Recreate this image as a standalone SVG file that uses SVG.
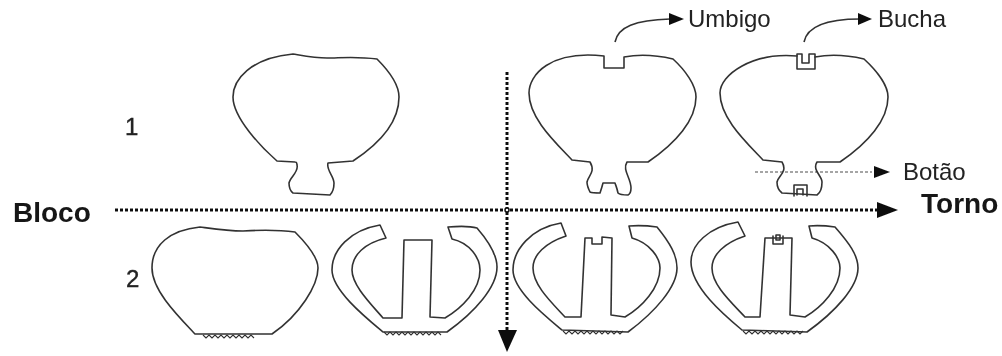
<svg xmlns="http://www.w3.org/2000/svg" width="1002" height="356" viewBox="0 0 1002 356">
<defs>
<style>
.o{fill:none;stroke:#333;stroke-width:1.6;stroke-linejoin:round;stroke-linecap:round}
.t{fill:none;stroke:#333;stroke-width:1.1}
.d{fill:none;stroke:#111;stroke-width:3;stroke-dasharray:3 2}
.a{fill:#111;stroke:none}
.c{fill:none;stroke:#333;stroke-width:1.6}
text{font-family:"Liberation Sans",Arial,sans-serif;fill:#222}
.b{font-weight:bold;font-size:28px;fill:#151515}
.n{font-size:24px;stroke:#222;stroke-width:.4}
.l{font-size:24px}
</style>
<filter id="s" x="-5%" y="-5%" width="110%" height="110%"><feGaussianBlur stdDeviation="0.6"/></filter>
</defs>
<rect width="1002" height="356" fill="#fff"/>
<g filter="url(#s)">
<g id="connectors">
<path class="d" d="M115 210H878"/>
<path class="a" d="M877 202L898 210L877 218Z"/>
<path class="d" d="M507 72V330"/>
<path class="a" d="M498 330L517 330L507 352Z"/>
<circle cx="507" cy="210" r="2" fill="#fff" stroke="#111" stroke-width="1.5"/>
<path class="c" d="M615 42C618 27 635 20 670 19"/>
<path class="a" d="M669 13L684 19L669 25Z"/>
<path class="c" d="M804 42C807 27 824 19 860 19"/>
<path class="a" d="M858 13L872 19L858 25Z"/>
<path d="M755 172H872" fill="none" stroke="#888" stroke-width="1.5" stroke-dasharray="3 2"/>
<path class="a" d="M874 166L890 172L874 178Z"/>
</g>
<g id="row1-bloco">
<path class="o" d="M293 54C305 56 315 58 327 58C340 58 355 56 377 59C388 70 399 85 399 97C399 120 382 142 353 161L328 163C326 170 334 176 334 183C334 190 332 193 330 195L293 193C289 190 289 186 289 183C290 177 299 172 297 165C297 162 296 162 295 162L277 161C262 148 233 118 233 97C233 80 250 58 293 54Z"/>
</g>
<g id="row1-umbigo">
<path class="o" d="M604 56V68H624V57C640 54 660 56 673 59C685 70 696 85 696 97C696 120 676 143 648 162L627 162C622 170 631 178 631 188C631 192 630 194 628 195C622 195 619 194 618 193C617 188 616 186 615 183L603 183C602 187 601 190 600 193C596 193 592 193 590 192C588 188 587 185 587 182C588 176 596 172 590 162L572 160C555 142 529 118 529 93C529 75 550 50 604 56Z"/>
</g>
<g id="row1-bucha">
<path class="o" d="M797 56C752 52 720 75 720 93C720 118 746 142 763 160L782 162C788 172 778 176 777 182C777 186 778 190 782 193L817 195C820 193 822 190 822 182C822 176 812 170 817 162L840 162C868 143 888 120 888 97C888 85 876 70 864 59C851 56 831 54 815 57"/>
<path class="o" d="M809 54H815V69H797V54H802V63H809Z"/>
<path class="o" d="M794 196V185H807V196M797 195V189H803V195"/>
</g>
<g id="row2-bloco">
<path class="o" d="M200 227C215 229 228 231 243 231C260 230 280 230 295 232C308 245 318 258 318 268C318 285 300 315 272 334L195 334C177 315 152 290 152 268C152 245 170 230 200 227Z"/>
<path class="t" d="M203 335l3 3 3-3 3 3 3-3 3 3 3-3 3 3 3-3 3 3 3-3 3 3 3-3 3 3 3-3 3 3 3-3 3 3"/>
</g>
<g id="row2-torno">
<path class="o" d="M380 225L386 238C365 243 352 255 352 270C352 285 370 303 383 318L402 318L404 240H432L430 317L445 318C462 308 480 290 480 270C480 258 470 243 452 239L448 227C460 226 470 226 477 228C490 243 497 255 497 267C497 287 475 312 447 332L383 332C365 317 332 290 332 270C332 250 350 230 380 225Z"/>
<path class="t" d="M384 332l3 3 3-3 3 3 3-3 3 3 3-3 3 3 3-3 3 3 3-3 3 3 3-3 3 3 3-3 3 3 3-3 3 3 3-3 3 3"/>
</g>
<g id="row2-umbigo">
<path class="o" d="M561 223L566 236C545 243 533 255 533 268C533 285 551 302 565 317L581 317L585 238H592V244H602V237L612 238L611 315L625 317C642 307 660 288 660 268C660 258 650 243 632 238L629 226C641 225 650 226 657 227C670 243 677 255 677 268C677 287 655 312 628 332L562 330C544 315 513 290 513 270C513 250 531 228 561 223Z"/>
<path class="t" d="M563 331l3 3 3-3 3 3 3-3 3 3 3-3 3 3 3-3 3 3 3-3 3 3 3-3 3 3 3-3 3 3 3-3 3 3 3-3 3 3 3-3"/>
</g>
<g id="row2-bucha">
<path class="o" d="M738 222L745 236C724 243 712 255 712 268C712 285 731 302 745 317L760 317L765 238H792L790 315L805 317C822 307 840 288 840 268C840 258 830 243 812 238L809 226C821 225 828 226 835 227C849 243 858 255 858 268C858 287 835 312 807 332L742 330C724 315 691 287 691 262C691 245 708 227 738 222Z"/>
<path class="o" d="M773 236V244H783V236M776 235V240H780V235Z"/>
<path class="t" d="M743 331l3 3 3-3 3 3 3-3 3 3 3-3 3 3 3-3 3 3 3-3 3 3 3-3 3 3 3-3 3 3 3-3 3 3 3-3 3 3 3-3"/>
</g>
<text class="b" x="13" y="222">Bloco</text>
<text class="b" x="921" y="213">Torno</text>
<text class="n" x="125" y="135">1</text>
<text class="n" x="126" y="287">2</text>
<text class="l" x="688" y="27">Umbigo</text>
<text class="l" x="878" y="27">Bucha</text>
<text class="l" x="903" y="180">Botão</text>
</g>
</svg>
